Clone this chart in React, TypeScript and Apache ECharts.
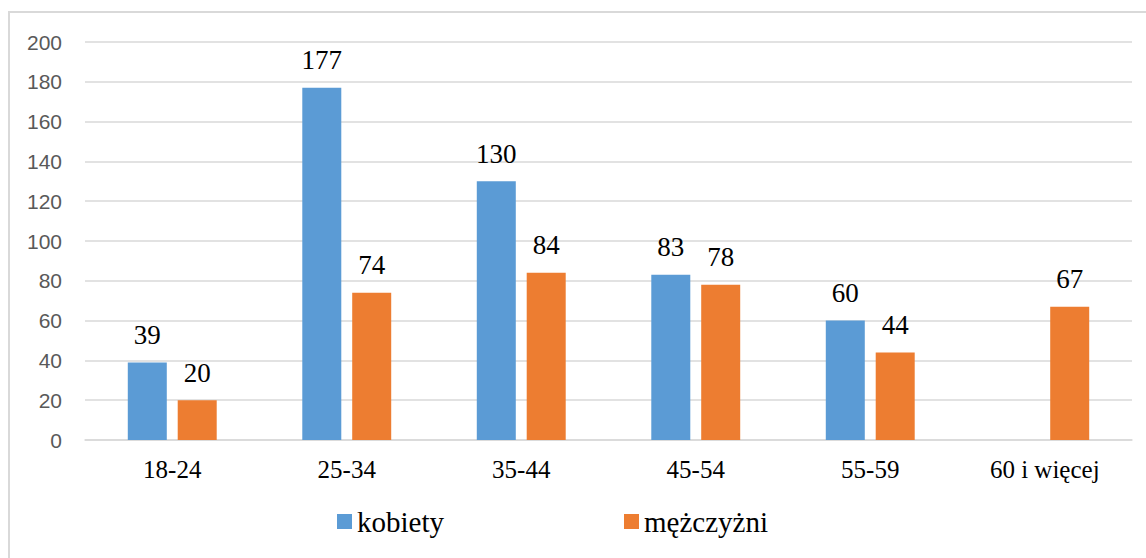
import React, { useEffect, useRef } from "react";
import * as echarts from "echarts";

const categories = ["18-24", "25-34", "35-44", "45-54", "55-59", "60 i więcej"];
const kobiety: (number | null)[] = [39, 177, 130, 83, 60, null];
const mezczyzni: (number | null)[] = [20, 74, 84, 78, 44, 67];
const seriesNames = ["kobiety", "mężczyżni"];

const SERIF = "Liberation Serif";
const SANS = "Liberation Sans";

export default function App() {
  const ref = useRef<HTMLDivElement>(null);
  useEffect(() => {
    if (!ref.current) return;
    const chart = echarts.init(ref.current, undefined, { renderer: "svg" });
    const labelStyle = {
      show: true,
      position: "top" as const,
      distance: 14,
      fontFamily: SERIF,
      fontSize: 27,
      color: "#000",
    };
    chart.setOption({
      animation: false,
      backgroundColor: "#fff",
      graphic: [
        {
          type: "rect",
          shape: { x: 9, y: 12, width: 1300, height: 700 },
          style: { fill: "none", stroke: "#D9D9D9", lineWidth: 2 },
          silent: true,
          z: -1,
        },
      ],
      grid: { left: 85, right: 14, top: 42, bottom: 118, containLabel: false },
      legend: {
        left: 332,
        top: 502,
        itemWidth: 15,
        itemHeight: 15,
        itemGap: 180,
        icon: "rect",
        textStyle: { fontFamily: SERIF, fontSize: 29, color: "#000" },
        data: seriesNames,
      },
      xAxis: {
        type: "category",
        data: categories,
        axisLine: { lineStyle: { color: "#D9D9D9", width: 1.5 } },
        axisTick: { show: false },
        axisLabel: { fontFamily: SERIF, fontSize: 25, color: "#000", margin: 17 },
      },
      yAxis: {
        type: "value",
        min: 0,
        max: 200,
        interval: 20,
        axisLine: { show: false },
        axisTick: { show: false },
        splitLine: { lineStyle: { color: "#D9D9D9", width: 1.5 } },
        axisLabel: { fontFamily: SANS, fontSize: 21, color: "#595959", margin: 23 },
      },
      series: [
        {
          name: seriesNames[0],
          type: "bar",
          data: kobiety,
          barWidth: 39,
          barGap: "28%",
          itemStyle: { color: "#5B9BD5" },
          label: labelStyle,
        },
        {
          name: seriesNames[1],
          type: "bar",
          data: mezczyzni,
          barWidth: 39,
          barGap: "28%",
          itemStyle: { color: "#ED7D31" },
          label: labelStyle,
        },
      ],
    });
    return () => chart.dispose();
  }, []);
  return (
    <div
      ref={ref}
      style={{ position: "fixed", left: 0, top: 0, width: 1146, height: 558 }}
    />
  );
}
